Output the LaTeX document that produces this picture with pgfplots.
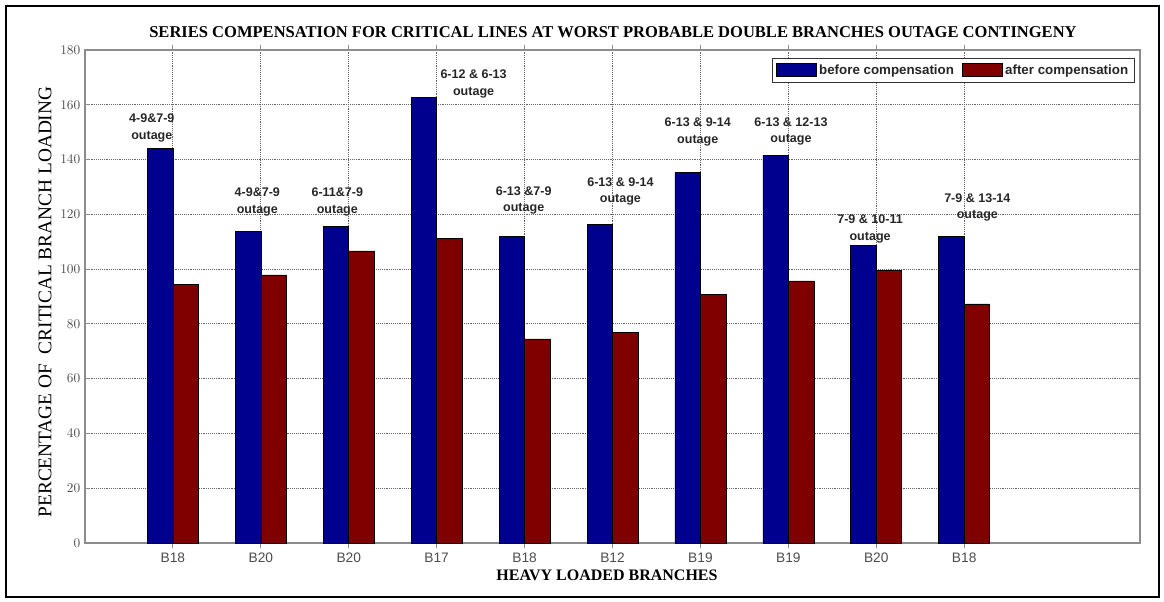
\documentclass[border=0pt]{standalone}
\usepackage{pgfplots}
\pgfplotsset{compat=1.18}
\usepackage{fontspec}
\setmainfont{Liberation Serif}
\newfontfamily\arial{Liberation Sans}
\definecolor{bblue}{RGB}{0,0,143}
\definecolor{bred}{RGB}{128,0,0}
\definecolor{axgray}{RGB}{140,140,140}
\begin{document}
\begin{tikzpicture}[x=0.75pt,y=-0.75pt]
\useasboundingbox (0,0) rectangle (1164,601);
\draw[line width=1.9pt] (6,6) rectangle (1159,597);
\begin{axis}[
  at={(63.75pt,-407.25pt)}, anchor=south west,
  width=791.25pt, height=369.75pt, scale only axis,
  xmin=0, xmax=12, ymin=0, ymax=180,
  xtick={1,...,10},
  xticklabels={B18,B20,B20,B17,B18,B12,B19,B19,B20,B18},
  ytick={0,20,...,180},
  grid=major,
  major grid style={densely dotted, black!60, line width=0.65pt},
  axis line style={axgray, line width=1.1pt},
  tick style={axgray, line width=0.8pt},
  major tick length=4pt,
  tick align=inside,
  ticklabel style={font=\arial\fontsize{10.3}{12}\selectfont, text=black!70},
  ybar, bar width=0.29,
  legend style={at={(0.995,0.984)}, anchor=north east, legend columns=2,
    draw=black!80, line width=0.8pt, inner sep=2.5pt,
    font=\arial\bfseries\fontsize{10}{11.5}\selectfont, text=black!85,
    /tikz/every even column/.append style={column sep=4pt}},
  clip=false,
]
\addplot[fill=bblue, draw=black, line width=0.4pt, bar shift=-0.145,
  legend image code/.code={\draw[fill=bblue,draw=black,line width=0.4pt] (0pt,-4.8pt) rectangle (30pt,5pt);}]
  coordinates {(1,144.0) (2,113.9) (3,115.6) (4,162.8) (5,112.0) (6,116.2) (7,135.2) (8,141.6) (9,108.7) (10,112.0)};
\addlegendentry{before compensation}
\addplot[fill=bred, draw=black, line width=0.4pt, bar shift=0.145,
  legend image code/.code={\draw[fill=bred,draw=black,line width=0.4pt] (0pt,-4.8pt) rectangle (30pt,5pt);}]
  coordinates {(1,94.3) (2,97.9) (3,106.7) (4,111.3) (5,74.5) (6,77.0) (7,90.9) (8,95.7) (9,99.4) (10,87.3)};
\addlegendentry{after compensation}
\begin{scope}[every node/.style={font=\arial\bfseries\fontsize{9.4}{12.4}\selectfont, text=black!85, align=center, inner sep=0pt}]
\node at (axis cs:0.76,151.5) {4-9\&7-9\\outage};
\node at (axis cs:1.96,124.5) {4-9\&7-9\\outage};
\node at (axis cs:2.87,124.5) {6-11\&7-9\\outage};
\node at (axis cs:4.42,167.7) {6-12 \& 6-13\\outage};
\node at (axis cs:4.99,125.0) {6-13 \&7-9\\outage};
\node at (axis cs:6.09,128.3) {6-13 \& 9-14\\outage};
\node at (axis cs:6.97,150.0) {6-13 \& 9-14\\outage};
\node at (axis cs:8.03,150.3) {6-13 \& 12-13\\outage};
\node at (axis cs:8.93,114.7) {7-9 \& 10-11\\outage};
\node at (axis cs:10.15,122.5) {7-9 \& 13-14\\outage};
\end{scope}
\end{axis}
\node[font=\bfseries\fontsize{12.4}{14}\selectfont] at (613,32) {SERIES COMPENSATION FOR CRITICAL LINES AT WORST PROBABLE DOUBLE BRANCHES OUTAGE CONTINGENY};
\node[font=\bfseries\fontsize{12}{14}\selectfont] at (607,575) {HEAVY LOADED BRANCHES};
\node[font=\fontsize{14.5}{16}\selectfont, rotate=90] at (45,302) {PERCENTAGE OF\ \ CRITICAL BRANCH LOADING};
\end{tikzpicture}
\end{document}
